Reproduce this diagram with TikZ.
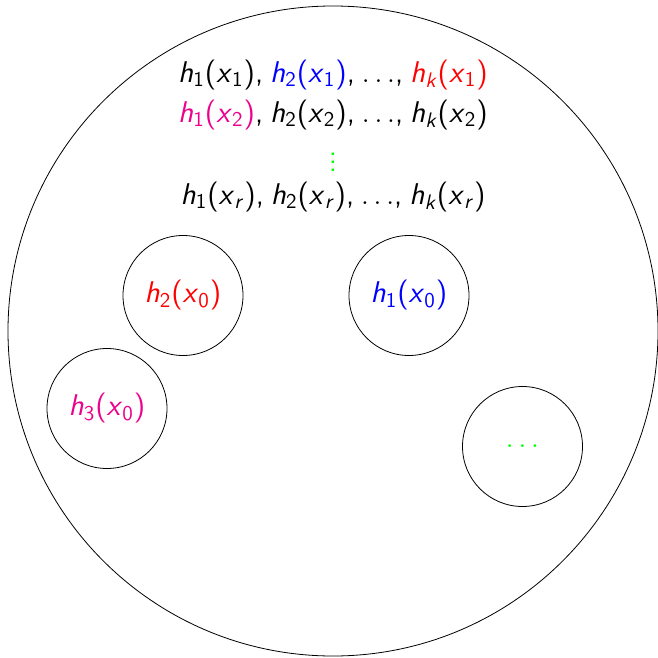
\documentclass[tikz,border=0pt]{standalone}
\usepackage{xcolor}
\definecolor{hpink}{RGB}{236,0,140}
\definecolor{hgreen}{RGB}{0,255,0}
\newcommand\Hx[2]{\textit{h}\textsubscript{#1}(\textit{x}\textsubscript{#2})}
\newcommand\sep{,\kern0.23em}
\newcommand\dts{$\ldots$}
\begin{document}
\begin{tikzpicture}[x=0.5pt,y=-0.5pt,
  every node/.style={font=\sffamily\fontsize{15}{18}\selectfont, inner sep=0pt},
  small/.style={circle, draw, line width=0.4pt, minimum size=60pt}]
\useasboundingbox (0,0) rectangle (658,658);
\node[circle, draw, line width=0.4pt, minimum size=325pt] (big) at (333,331) {};
\node (l1) at (333,75) {\Hx{1}{1}\sep\textcolor{blue}{\Hx{2}{1}}\sep\dts\sep\textcolor{red}{\Hx{\textit{k}}{1}}};
\node (l2) at (333,115) {\textcolor{hpink}{\Hx{1}{2}}\sep\Hx{2}{2}\sep\dts\sep\Hx{\textit{k}}{2}};
\node[text=hgreen] (vd) at (333,156) {$\vdots$};
\node (l3) at (333,197) {\Hx{1}{\textit{r}}\sep\Hx{2}{\textit{r}}\sep\dts\sep\Hx{\textit{k}}{\textit{r}}};
\node[small, text=red] (c2) at (183,295.5) {\Hx{2}{0}};
\node[small, text=blue] (c1) at (409,295.5) {\Hx{1}{0}};
\node[small, text=hpink] (c3) at (107,408.5) {\Hx{3}{0}};
\node[small, text=hgreen] (c4) at (522.5,446.5) {\dts};
\end{tikzpicture}
\end{document}
